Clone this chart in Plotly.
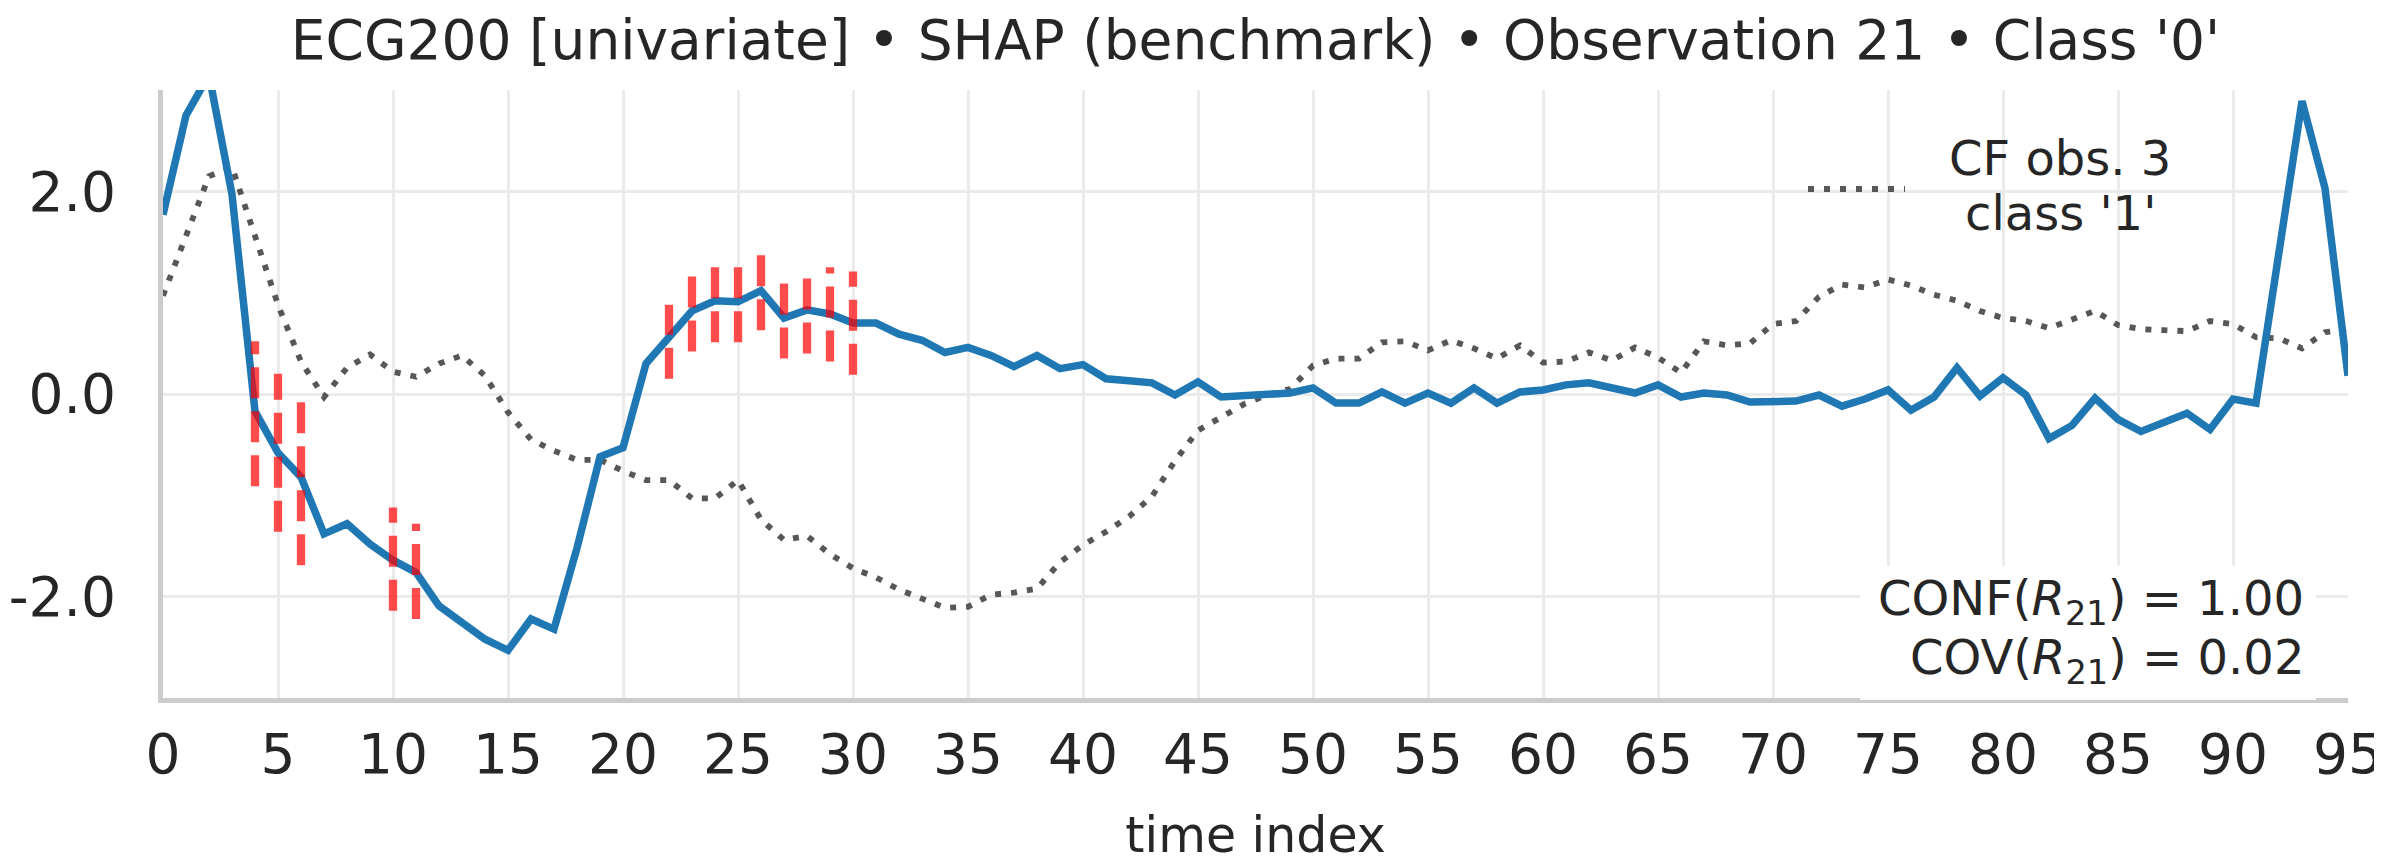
import plotly.graph_objects as go

# ---------------- data ----------------
time_index = list(range(96))

observation = [
    1.77, 2.75, 3.15, 1.97, -0.17, -0.58, -0.82, -1.38, -1.28, -1.48,
    -1.64, -1.76, -2.09, -2.25, -2.42, -2.53, -2.22, -2.32, -1.52, -0.62,
    -0.53, 0.30, 0.56, 0.82, 0.92, 0.91, 1.02, 0.75, 0.83, 0.79,
    0.70, 0.70, 0.59, 0.53, 0.41, 0.46, 0.38, 0.27, 0.38, 0.25,
    0.29, 0.15, 0.13, 0.11, -0.01, 0.12, -0.03, -0.02, 0.00, 0.01,
    0.06, -0.09, -0.09, 0.02, -0.09, 0.01, -0.09, 0.06, -0.09, 0.02,
    0.04, 0.09, 0.11, 0.06, 0.01, 0.09, -0.03, 0.01, -0.01, -0.08,
    -0.08, -0.07, -0.01, -0.12, -0.05, 0.04, -0.16, -0.03, 0.26, -0.02,
    0.16, -0.01, -0.44, -0.31, -0.04, -0.25, -0.37, -0.27, -0.19, -0.35,
    -0.05, -0.09, 1.40, 2.89, 2.03, 0.18,
]

counterfactual = [
    0.97, 1.56, 2.15, 2.24, 1.58, 0.88, 0.32, -0.03, 0.26, 0.39,
    0.22, 0.17, 0.30, 0.38, 0.18, -0.18, -0.45, -0.56, -0.65, -0.65,
    -0.76, -0.85, -0.85, -1.03, -1.03, -0.85, -1.24, -1.44, -1.40, -1.58,
    -1.72, -1.81, -1.93, -2.02, -2.11, -2.10, -1.98, -1.96, -1.92, -1.66,
    -1.49, -1.36, -1.21, -1.01, -0.66, -0.36, -0.23, -0.10, -0.01, 0.05,
    0.28, 0.35, 0.35, 0.51, 0.52, 0.43, 0.53, 0.45, 0.35, 0.48,
    0.31, 0.32, 0.41, 0.33, 0.46, 0.36, 0.21, 0.52, 0.48, 0.50,
    0.69, 0.72, 0.96, 1.08, 1.05, 1.13, 1.07, 0.98, 0.92, 0.82,
    0.75, 0.72, 0.65, 0.73, 0.82, 0.68, 0.64, 0.63, 0.62, 0.72,
    0.69, 0.56, 0.55, 0.45, 0.61, 0.64,
]

rule_times = [4, 5, 6, 10, 11, 22, 23, 24, 25, 26, 27, 28, 29, 30]
rule_low = [-0.91, -1.36, -1.69, -2.14, -2.22, 0.15, 0.42, 0.51, 0.51, 0.63, 0.35, 0.40, 0.32, 0.19]
rule_high = [0.52, 0.20, -0.07, -1.12, -1.28, 0.88, 1.16, 1.25, 1.25, 1.37, 1.09, 1.14, 1.25, 1.21]

x_tick_values = list(range(0, 96, 5))
y_tick_values = [-2.0, 0.0, 2.0]
y_tick_labels = ["-2.0", "0.0", "2.0"]

title_text = "ECG200 [univariate] \u2022 SHAP (benchmark) \u2022 Observation 21 \u2022 Class '0'"
cf_label_lines = ["CF obs. 3", "class '1'"]
metrics_lines = ["CONF(<i>R</i><sub>21</sub>) = 1.00",
                 "COV(<i>R</i><sub>21</sub>) = 0.02"]

# ---------------- style ----------------
W, H = 2382, 862
ML, MR, MT, MB = 155, 42, 82, 172
FONT = "DejaVu Sans"
TXT = "#262626"
GRAY = "#575757"
BLUE = "#1f77b4"
RED = "rgba(255,0,0,0.7)"

fig = go.Figure()

fig.add_trace(go.Scatter(
    x=time_index, y=counterfactual, mode="lines",
    line=dict(color=GRAY, width=5.8, dash="6px,10px"),
    showlegend=False, hoverinfo="skip"))

fig.add_trace(go.Scatter(
    x=time_index, y=observation, mode="lines",
    line=dict(color=BLUE, width=7.5),
    showlegend=False))

for t, lo, hi in zip(rule_times, rule_low, rule_high):
    fig.add_trace(go.Scatter(
        x=[t, t], y=[lo, hi], mode="lines",
        line=dict(color=RED, width=8.3, dash="31px,13px"),
        showlegend=False, hoverinfo="skip"))

axis_common = dict(
    showgrid=True, gridcolor="#ebebeb", gridwidth=2.5,
    showline=True, linecolor="#cccccc", linewidth=5,
    zeroline=False, ticks="", automargin=False,
    tickfont=dict(family=FONT, size=55, color=TXT),
)

fig.update_xaxes(
    range=[0, 95], tickvals=x_tick_values,
    ticklabelstandoff=4,
    title=dict(text="time index", font=dict(family=FONT, size=49, color=TXT), standoff=34),
    **axis_common)
fig.update_yaxes(
    range=[-3, 3], tickvals=y_tick_values, ticktext=y_tick_labels,
    ticklabelstandoff=31,
    **axis_common)

def px_x(px):
    return (px - ML) / (W - ML - MR)

def px_y(py):
    return (H - MB - py) / (H - MT - MB)

annotations = [
    dict(text=cf_label_lines[0], x=px_x(2052), y=px_y(150), xref="paper", yref="paper",
         xanchor="center", yanchor="middle", showarrow=False,
         font=dict(family=FONT, size=48, color=TXT)),
    dict(text=cf_label_lines[1], x=px_x(2052), y=px_y(205), xref="paper", yref="paper",
         xanchor="center", yanchor="middle", showarrow=False,
         font=dict(family=FONT, size=48, color=TXT)),
    dict(text=metrics_lines[0], x=px_x(2298), y=px_y(593), xref="paper", yref="paper",
         xanchor="right", yanchor="middle", align="right", showarrow=False,
         font=dict(family=FONT, size=48, color=TXT)),
    dict(text=metrics_lines[1], x=px_x(2298), y=px_y(652), xref="paper", yref="paper",
         xanchor="right", yanchor="middle", align="right", showarrow=False,
         font=dict(family=FONT, size=48, color=TXT)),
]

shapes = [
    dict(type="line", xref="paper", yref="paper",
         x0=px_x(1800), x1=px_x(1897), y0=px_y(181), y1=px_y(181),
         line=dict(color=GRAY, width=5.8, dash="6px,10px")),
    dict(type="rect", xref="paper", yref="paper", layer="above",
         x0=px_x(1852), x1=px_x(2308), y0=px_y(692), y1=px_y(558),
         fillcolor="rgba(255,255,255,0.92)", line=dict(width=0)),
]

fig.update_layout(
    width=W, height=H,
    margin=dict(l=ML, r=MR, t=MT, b=MB, pad=0),
    paper_bgcolor="white", plot_bgcolor="white",
    font=dict(family=FONT, color=TXT),
    title=dict(text=title_text, x=0.5, xref="paper", xanchor="center",
               y=1 - 32 / H, yref="container", yanchor="middle",
               font=dict(family=FONT, size=55, color=TXT), automargin=False),
    annotations=annotations, shapes=shapes,
)

fig.write_html("out.html")
